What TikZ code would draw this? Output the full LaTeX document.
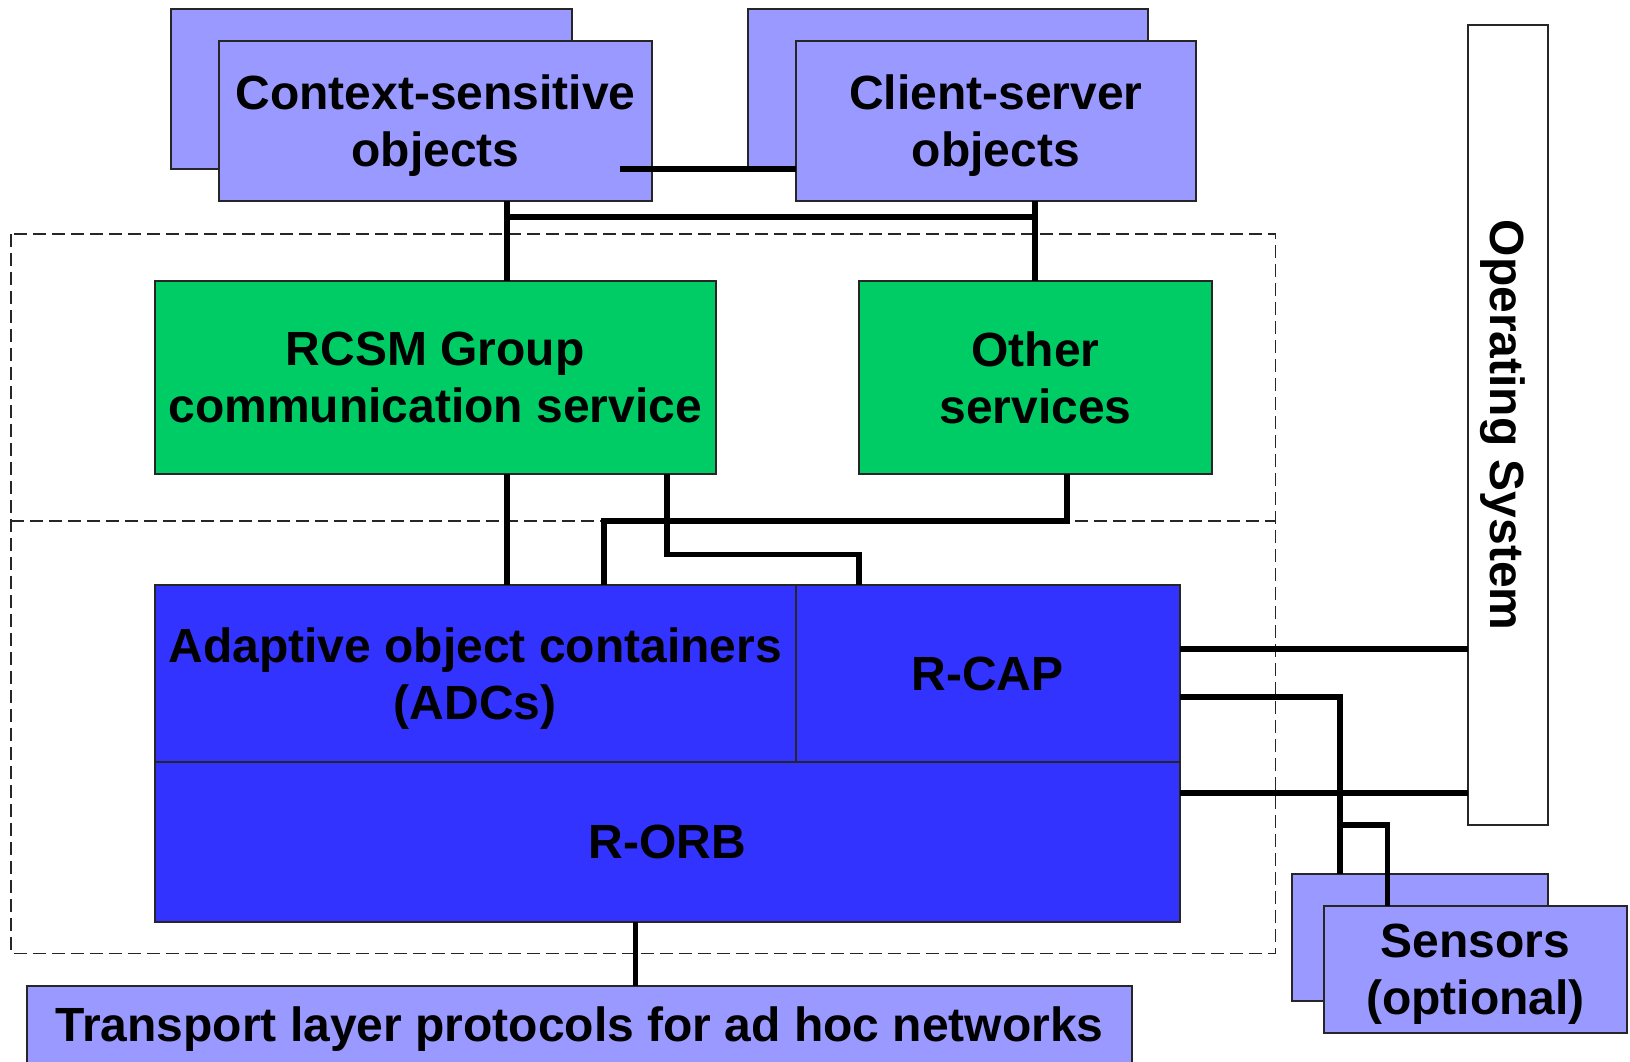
\documentclass[tikz,border=0pt]{standalone}
\usepackage{fontspec}
\setmainfont{Liberation Sans}
\usetikzlibrary{calc}
\definecolor{cLilac}{RGB}{153,153,255}
\definecolor{cGreen}{RGB}{0,204,102}
\definecolor{cBlue}{RGB}{51,51,255}
\tikzset{
  basebox/.style={rectangle,draw=black!85,line width=2pt,inner sep=0pt,outer sep=0pt,
                  align=center,text depth=-4pt,font=\bfseries\fontsize{48}{57}\selectfont},
  objnode/.style={basebox,fill=cLilac},
  srvnode/.style={basebox,fill=cGreen},
  mwnode/.style={basebox,fill=cBlue},
  osnode/.style={basebox,fill=white},
  frame/.style={draw=black!85,line width=1.8pt,dash pattern=on 13pt off 6pt},
  conn/.style={draw=black,line width=5.6pt}
}

\begin{document}
\begin{tikzpicture}[x=1pt,y=-1pt]
  \useasboundingbox (0,0) rectangle (1630,1062);

  % dashed layer frames
  \draw[frame] (11,234) rectangle (1275.4,953.4);
  \draw[frame] (11,521) -- (1275.4,521);

  % application objects
  \node[objnode,minimum width=401pt,minimum height=160pt] (csback) at (371.5,89) {};
  \node[objnode,minimum width=433pt,minimum height=160pt] (csobj) at (435.5,121)
      {Context-sensitive\\objects};
  \node[objnode,minimum width=400pt,minimum height=160pt] (clback) at (948,89) {};
  \node[objnode,minimum width=400.5pt,minimum height=160pt] (clobj) at (995.75,121)
      {Client-server\\objects};

  % services
  \node[srvnode,minimum width=560.5pt,minimum height=192.6pt] (rcsm) at (435.25,377.3)
      {RCSM Group\\communication service};
  \node[srvnode,minimum width=352.7pt,minimum height=192.6pt] (other) at (1035.6,377.3)
      {Other\\services};

  % middleware
  \node[mwnode,minimum width=640.5pt,minimum height=176.3pt] (adc) at (475.25,673.45)
      {Adaptive object containers\\(ADCs)};
  \node[mwnode,minimum width=384.1pt,minimum height=176.3pt] (rcap) at (987.55,673.45)
      {R-CAP};
  \node[mwnode,minimum width=1024.6pt,minimum height=160.3pt] (rorb) at (667.3,841.75)
      {R-ORB};

  \node[objnode,minimum width=1104.8pt,minimum height=77.6pt] (transport) at (579.6,1024.5)
      {Transport layer protocols for ad hoc networks};

  \node[osnode,rotate=-90,minimum width=799.6pt,minimum height=79.9pt] (os) at (1507.55,425.2)
      {Operating System};

  \node[objnode,minimum width=255.7pt,minimum height=127.5pt] (snback) at (1419.65,937.25) {};
  \node[objnode,minimum width=303.8pt,minimum height=127.6pt] (snobj) at (1475.5,969.5)
      {Sensors\\(optional)};

  % bends of the connectors
  \coordinate (csend) at (620,169);
  \coordinate (busA) at (507,217);
  \coordinate (busB) at (1035,217);
  \coordinate (osx) at (1067,521);
  \coordinate (adx) at (604,521);
  \coordinate (rgx) at (667,554.5);
  \coordinate (rcx) at (858.8,554.5);
  \coordinate (oa) at (1300,648.7);
  \coordinate (sa) at (1340,697);
  \coordinate (ob) at (1300,793.2);
  \coordinate (sb) at (1387.6,824.7);
  \coordinate (tx) at (635.5,950);

  \draw[conn] (csend) -- (csend -| clobj.west);
  \draw[conn] (busA) -- (busB);
  \draw[conn] (csobj.south -| busA) -- (rcsm.north -| busA);
  \draw[conn] (clobj.south -| busB) -- (other.north -| busB);
  \draw[conn] (rcsm.south -| busA) -- (adc.north -| busA);
  \draw[conn] (other.south -| osx) -- (osx) -- (adx) -- (adc.north -| adx);
  \draw[conn] (rcsm.south -| rgx) -- (rgx) -- (rcx) -- (rcap.north -| rcx);
  \draw[conn] (rcap.east |- oa) -- (os.south |- oa);
  \draw[conn] (rcap.east |- sa) -- (sa) -- (snback.north -| sa);
  \draw[conn] (rorb.east |- ob) -- (os.south |- ob);
  \draw[conn] (sa |- sb) -- (sb) -- (snobj.north -| sb);
  \draw[conn] (rorb.south -| tx) -- (transport.north -| tx);

\end{tikzpicture}
\end{document}
